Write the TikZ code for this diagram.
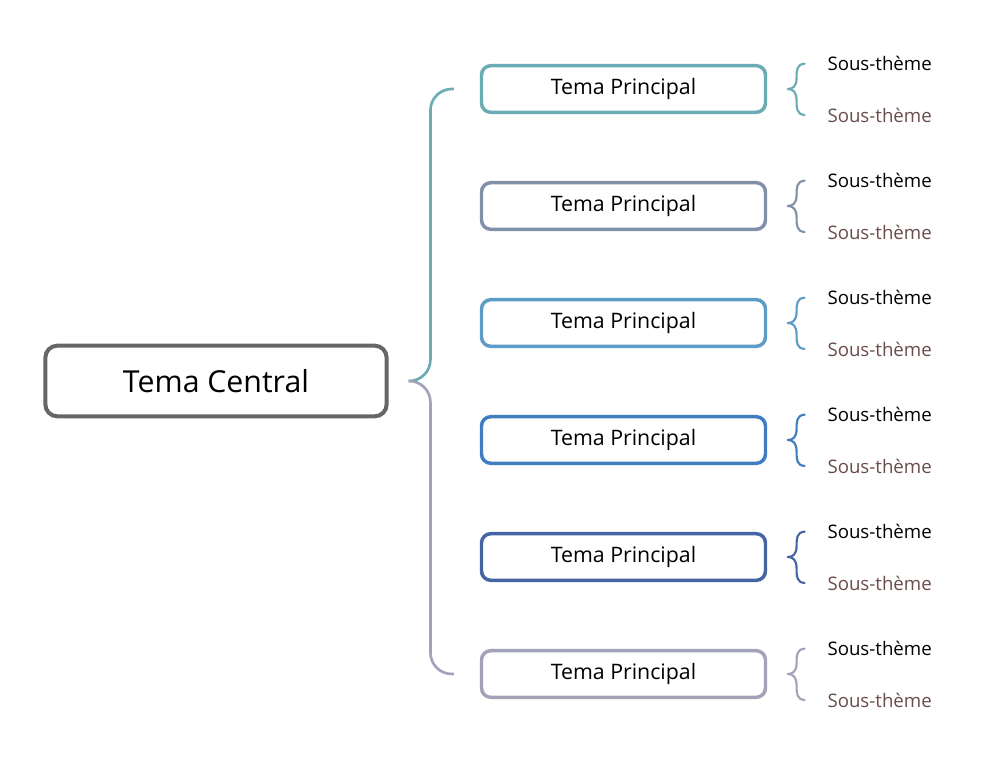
\documentclass[tikz,border=0pt]{standalone}
\usepackage{fontspec}
\setmainfont{Open Sans}
\usetikzlibrary{positioning}

\definecolor{centralgray}{HTML}{666666}
\definecolor{topicA}{HTML}{6AABB5}
\definecolor{topicB}{HTML}{8090A8}
\definecolor{topicC}{HTML}{5E9CC8}
\definecolor{topicD}{HTML}{3E7DC0}
\definecolor{topicE}{HTML}{4464A4}
\definecolor{topicF}{HTML}{A2A2B8}
\definecolor{subbrown}{HTML}{6B4C4C}

\tikzset{
  centralbox/.style={draw=centralgray, line width=3pt, rounded corners=9pt,
    minimum width=256pt, minimum height=53pt, font=\fontsize{22.7}{26}\selectfont},
  topicbox/.style={line width=2.6pt, rounded corners=7pt,
    minimum width=213pt, minimum height=35pt, font=\fontsize{16}{19}\selectfont},
  subtext/.style={anchor=west, inner sep=0pt, font=\fontsize{14}{17}\selectfont},
  branch/.style={line width=2pt, rounded corners=16pt},
  bracepart/.style={line width=1.6pt, line cap=round}
}

\begin{document}
\begin{tikzpicture}[x=0.75pt, y=-0.75pt]

      % page
      \useasboundingbox (0,0) rectangle (995,777);

      % central node
      \node[centralbox] (central) at (216,381) {Tema Central};

      % main topics
      \foreach \i/\col in {1/topicA,2/topicB,3/topicC,4/topicD,5/topicE,6/topicF}
          \node[topicbox, draw=\col] (topic\i) at (623.5,{89+117*(\i-1)}) {Tema Principal};

      % branch from central node (top half and bottom half)
      \coordinate (fork) at ([xshift=15pt]central.east);
      \coordinate (up1) at ([xshift=-37pt]topic1.west);
      \coordinate (up6) at ([xshift=-37pt]topic6.west);
      \draw[branch, topicA] (fork) -| (up1) -- ([xshift=-19.5pt]topic1.west);
      \draw[branch, topicF] (fork) -| (up6) -- ([xshift=-19.5pt]topic6.west);

      % sub topics and braces
      \foreach \i/\col in {1/topicA,2/topicB,3/topicC,4/topicD,5/topicE,6/topicF}
      {
          \node[subtext] (sub\i a) at ([xshift=45pt,yshift=19pt]topic\i.east) {Sous-thème};
          \node[subtext, text=subbrown] (sub\i b) at ([xshift=45pt,yshift=-19.5pt]topic\i.east) {Sous-thème};
          \coordinate (tip\i) at ([xshift=15.5pt]topic\i.east);
          \draw[bracepart, \col] ([xshift=28pt,yshift=19pt]topic\i.east)
              .. controls ([xshift=22pt,yshift=18.5pt]topic\i.east) and ([xshift=22pt,yshift=14pt]topic\i.east) ..
              ([xshift=22pt,yshift=8pt]topic\i.east)
              .. controls ([xshift=22pt,yshift=2pt]topic\i.east) and ([xshift=19pt,yshift=0pt]topic\i.east) .. (tip\i);
          \draw[bracepart, \col] ([xshift=28pt,yshift=-19.5pt]topic\i.east)
              .. controls ([xshift=22pt,yshift=-19pt]topic\i.east) and ([xshift=22pt,yshift=-14.5pt]topic\i.east) ..
              ([xshift=22pt,yshift=-8.5pt]topic\i.east)
              .. controls ([xshift=22pt,yshift=-2pt]topic\i.east) and ([xshift=19pt,yshift=0pt]topic\i.east) .. (tip\i);
      }

\end{tikzpicture}
\end{document}
